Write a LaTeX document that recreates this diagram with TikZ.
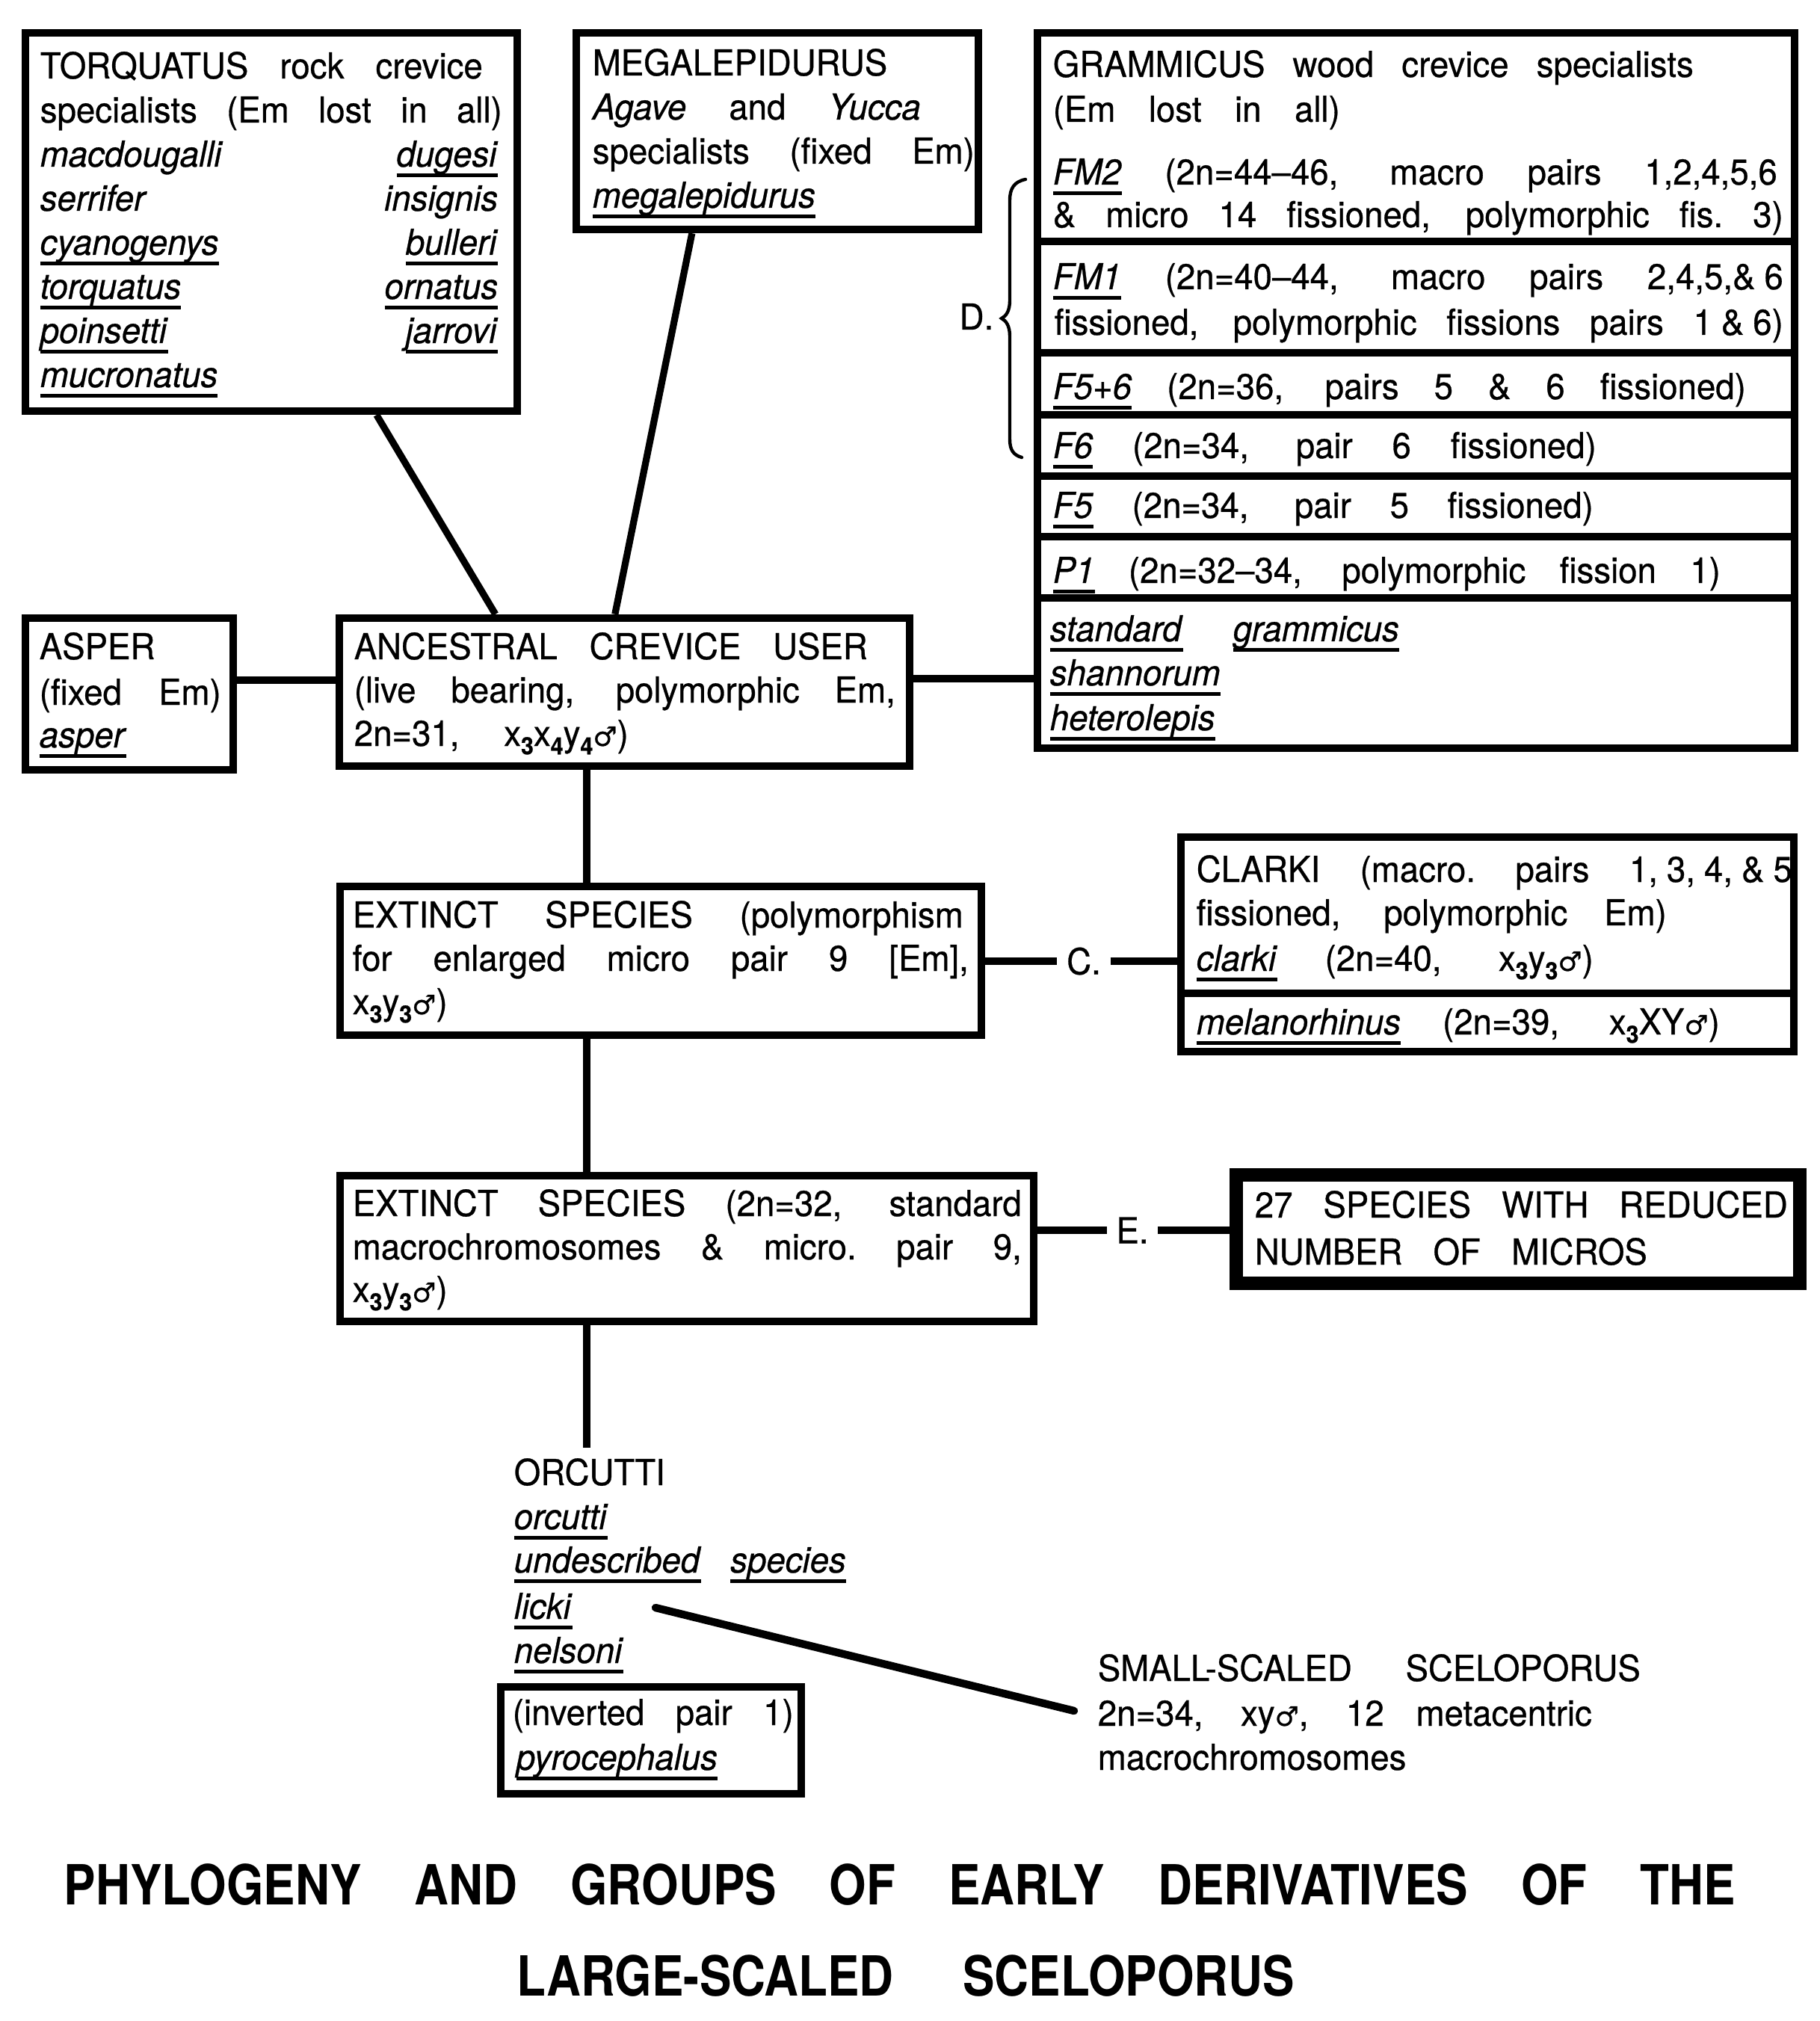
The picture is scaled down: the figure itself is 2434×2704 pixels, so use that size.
\documentclass[tikz,border=0pt]{standalone}
\usepackage{fontspec}
\setmainfont[FakeStretch=0.95,FakeBold=0.6]{TeX Gyre Heros}
\newfontfamily\ttlfont[FakeStretch=0.86]{TeX Gyre Heros}
\newfontfamily\symf[FakeBold=0.6]{DejaVu Sans}
\usetikzlibrary{fit,calc}
\newlength\px \setlength\px{0.25pt}
\newlength\ulw
\newcommand\Ln[2]{\makebox[#1\px][s]{#2}}
\newcommand\spu[1]{\settowidth\ulw{\textit{#1}}\textit{#1}\kern-\ulw\rule[-3.6pt]{\ulw}{1.3pt}}
\newcommand\sbs[1]{\raisebox{-0.45ex}{\fontsize{8}{8}\selectfont\bfseries #1}}
\newcommand\Msym{{\symf\fontsize{9}{9}\selectfont ♂}}
\tikzset{
  box/.style={draw, line width=2.6pt, inner sep=0pt},
  boxthick/.style={draw, line width=4.6pt, inner sep=0pt},
  divl/.style={line width=2.6pt},
  conn/.style={line width=2.3pt},
  txt/.style={inner sep=0pt, font=\fontsize{12}{14}\selectfont, anchor=base west},
  txtr/.style={txt, anchor=base east},
  lbl/.style={inner xsep=3pt, inner ysep=0pt, font=\fontsize{12}{14}\selectfont},
  ttl/.style={inner sep=0pt, font=\ttlfont\bfseries\fontsize{18.5}{22}\selectfont, anchor=base west},
  brc/.style={line width=1.1pt, line cap=round}
}
\begin{document}
\begin{tikzpicture}[x=0.25pt,y=-0.25pt]
\fill[white] (0,0) rectangle (2434,2704);
\useasboundingbox (0,0) rectangle (2434,2704);

% ---------- boxes ----------
\node[box, fit={(34,44) (692,550)}] (torq) {};
\node[box, fit={(771,44) (1309,307)}] (mega) {};
\node[box, fit={(1388,44) (2401,1001)}] (gram) {};
\node[box, fit={(34,827) (312,1030)}] (asper) {};
\node[box, fit={(454,827) (1217,1025)}] (anc) {};
\node[box, fit={(455,1186) (1313,1385)}] (ext1) {};
\node[box, fit={(1580,1120) (2400,1407)}] (clarki) {};
\node[box, fit={(455,1573) (1383,1768)}] (ext2) {};
\node[boxthick, fit={(1654,1572) (2408,1717)}] (red) {};
\node[box, fit={(670,2257) (1072,2400)}] (pyro) {};

% dividers
\foreach \yy in {323,472,555,637,718,800}
  \draw[divl] (gram.west |- 0,\yy) -- (gram.east |- 0,\yy);
\draw[divl] (clarki.west |- 0,1329) -- (clarki.east |- 0,1329);

% ---------- connectors ----------
\draw[conn] ($(torq.south west)+(475,0)$) -- ($(anc.north west)+(214,0)$);
\draw[conn] ($(mega.south west)+(160,0)$) -- ($(anc.north west)+(374,0)$);
\draw[conn] (asper.east |- 0,910) -- (anc.west |- 0,910);
\draw[conn] (anc.east |- 0,908) -- (gram.west |- 0,908);
\coordinate (vx) at (785,0);
\draw[conn] (vx |- anc.south) -- (vx |- ext1.north);
\draw[conn] (vx |- ext1.south) -- (vx |- ext2.north);
\coordinate (oend) at (785,1937);
\draw[conn] (oend |- ext2.south) -- (oend);

\node[lbl] (Clab) at (1450,1286) {C.};
\draw[conn] (ext1.east |- Clab.west) -- (Clab.west);
\draw[conn] (Clab.east) -- (clarki.west |- Clab.east);
\node[lbl] (Elab) at (1515,1646) {E.};
\draw[conn] (ext2.east |- Elab.west) -- (Elab.west);
\draw[conn] (Elab.east) -- (red.west |- Elab.east);

\node[txt, anchor=base east] (Dlab) at (1330,441) {D.};
\draw[brc] (1372,240) .. controls (1357,243) and (1351,252) .. (1351,268)
  -- (1351,402) .. controls (1351,416) and (1346,423) .. (1340,426)
  .. controls (1346,429) and (1351,436) .. (1351,450)
  -- (1351,588) .. controls (1351,602) and (1356,609) .. (1367,612);

\coordinate (lk) at (877,2151);
\coordinate (ss) at (1437,2289);
\draw[conn, line width=2.6pt, line cap=round] (lk) -- (ss);

% ---------- TORQUATUS ----------
\node[txt] (tq1) at (53,105) {\Ln{592}{TORQUATUS rock crevice}};
\node[txt] (tq2) at (53,164) {\Ln{618}{specialists (Em lost in all)}};
\node[txt] (tq3) at (53,223) {\textit{macdougalli}};
\node[txt] (tq4) at (53,282) {\textit{serrifer}};
\node[txt] (tq5) at (53,341) {\spu{cyanogenys}};
\node[txt] (tq6) at (53,400) {\spu{torquatus}};
\node[txt] (tq7) at (53,459) {\spu{poinsetti}};
\node[txt] (tq8) at (53,518) {\spu{mucronatus}};
\node[txtr] (tr3) at (667,223) {\spu{dugesi}};
\node[txtr] (tr4) at (667,282) {\textit{insignis}};
\node[txtr] (tr5) at (667,341) {\spu{bulleri}};
\node[txtr] (tr6) at (667,400) {\spu{ornatus}};
\node[txtr] (tr7) at (667,459) {\spu{jarrovi}};

% ---------- MEGALEPIDURUS ----------
\node[txt] (mg1) at (792,101) {MEGALEPIDURUS};
\node[txt] (mg2) at (792,160) {\Ln{439}{\textit{Agave} and \textit{Yucca}}};
\node[txt] (mg3) at (792,219) {\Ln{511}{specialists (fixed Em)}};
\node[txt] (mg4) at (792,278) {\spu{megalepidurus}};

% ---------- GRAMMICUS ----------
\node[txt] (gr1) at (1408,103) {\Ln{857}{GRAMMICUS wood crevice specialists}};
\node[txt] (gr2) at (1408,163) {\Ln{384}{(Em lost in all)}};
\node[txt] (gr3) at (1408,247) {\Ln{969}{\spu{FM2} (2n=44--46, macro pairs 1,2,4,5,6}};
\node[txt] (gr4) at (1408,304) {\Ln{977}{\& micro 14 fissioned, polymorphic fis.\ 3)}};
\node[txt] (gr5) at (1408,387) {\Ln{977}{\spu{FM1} (2n=40--44, macro pairs 2,4,5,\&\kern3pt6}};
\node[txt] (gr6) at (1410,448) {\Ln{975}{fissioned, polymorphic fissions pairs 1\kern3pt\&\kern3pt6)}};
\node[txt] (gr7) at (1408,534) {\Ln{927}{\spu{F5+6} (2n=36, pairs 5 \& 6 fissioned)}};
\node[txt] (gr8) at (1408,613) {\Ln{727}{\spu{F6} (2n=34, pair 6 fissioned)}};
\node[txt] (gr9) at (1408,693) {\Ln{723}{\spu{F5} (2n=34, pair 5 fissioned)}};
\node[txt] (gr10) at (1408,780) {\Ln{893}{\spu{P1} (2n=32--34, polymorphic fission 1)}};
\node[txt] (gr11) at (1404,858) {\Ln{467}{\spu{standard} \spu{grammicus}}};
\node[txt] (gr12) at (1404,917) {\spu{shannorum}};
\node[txt] (gr13) at (1404,977) {\spu{heterolepis}};

% ---------- ASPER ----------
\node[txt] (as1) at (52,882) {ASPER};
\node[txt] (as2) at (52,943) {\Ln{243}{(fixed Em)}};
\node[txt] (as3) at (52,1000) {\spu{asper}};

% ---------- ANCESTRAL ----------
\node[txt] (an1) at (473,882) {\Ln{687}{ANCESTRAL CREVICE USER}};
\node[txt] (an2) at (473,940) {\Ln{724}{(live bearing, polymorphic Em,}};
\node[txt] (an3) at (473,998) {\Ln{367}{2n=31, x\sbs3x\sbs4y\sbs4\Msym)}};

% ---------- EXTINCT 1 ----------
\node[txt] (ea1) at (471,1241) {\Ln{817}{EXTINCT SPECIES (polymorphism}};
\node[txt] (ea2) at (471,1299) {\Ln{824}{for enlarged micro pair 9 [Em],}};
\node[txt] (ea3) at (471,1357) {x\sbs3y\sbs3\Msym)};

% ---------- CLARKI ----------
\node[txt] (cl1) at (1600,1180) {\Ln{797}{CLARKI (macro.\ pairs 1,\kern3pt3,\kern3pt4,\kern3pt\&\kern3pt5}};
\node[txt] (cl2) at (1600,1238) {\Ln{629}{fissioned, polymorphic Em)}};
\node[txt] (cl3) at (1600,1299) {\Ln{531}{\spu{clarki} (2n=40, x\sbs3y\sbs3\Msym)}};
\node[txt] (cl4) at (1600,1384) {\Ln{700}{\spu{melanorhinus} (2n=39, x\sbs3XY\Msym)}};

% ---------- EXTINCT 2 ----------
\node[txt] (eb1) at (471,1627) {\Ln{895}{EXTINCT SPECIES (2n=32, standard}};
\node[txt] (eb2) at (471,1685) {\Ln{895}{macrochromosomes \& micro.\ pair 9,}};
\node[txt] (eb3) at (471,1742) {x\sbs3y\sbs3\Msym)};

% ---------- 27 SPECIES ----------
\node[txt] (rd1) at (1678,1629) {\Ln{713}{27 SPECIES WITH REDUCED}};
\node[txt] (rd2) at (1678,1692) {\Ln{525}{NUMBER OF MICROS}};

% ---------- ORCUTTI ----------
\node[txt] (or1) at (687,1987) {ORCUTTI};
\node[txt] (or2) at (687,2046) {\spu{orcutti}};
\node[txt] (or3) at (687,2104) {\Ln{444}{\spu{undescribed} \spu{species}}};
\node[txt] (or4) at (687,2166) {\spu{licki}};
\node[txt] (or5) at (687,2225) {\spu{nelsoni}};
\node[txt] (py1) at (685,2308) {\Ln{376}{(inverted pair 1)}};
\node[txt] (py2) at (690,2368) {\spu{pyrocephalus}};

% ---------- SMALL-SCALED ----------
\node[txt] (sm1) at (1468,2249) {\Ln{726}{SMALL-SCALED SCELOPORUS}};
\node[txt] (sm2) at (1468,2309) {\Ln{661}{2n=34, xy\Msym, 12 metacentric}};
\node[txt] (sm3) at (1468,2368) {macrochromosomes};

% ---------- title ----------
\node[ttl] (ti1) at (85,2548) {\Ln{2236}{PHYLOGENY AND GROUPS OF EARLY DERIVATIVES OF THE}};
\node[ttl] (ti2) at (691,2670) {\Ln{1040}{LARGE-SCALED SCELOPORUS}};
\end{tikzpicture}
\end{document}
